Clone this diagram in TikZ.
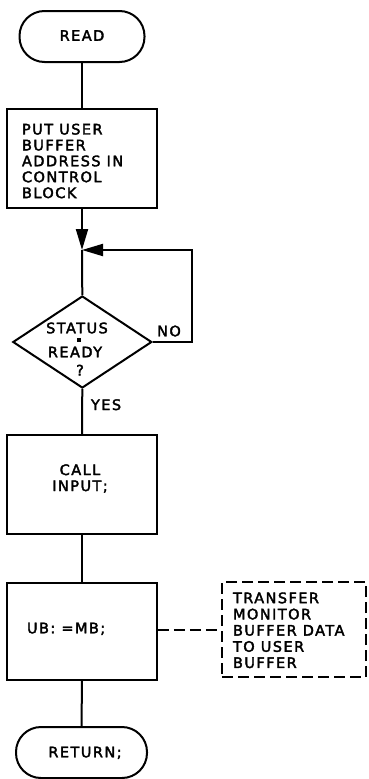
\documentclass[tikz,border=0pt]{standalone}
\usepackage{fontspec}
\setmainfont{DejaVu Sans}[LetterSpace=10,FakeBold=2.4]
\usetikzlibrary{shapes.geometric,arrows.meta}
\begin{document}
\begin{tikzpicture}[x=1pt,y=-1pt,line width=2pt,
  every node/.style={font=\fontsize{14.5}{16}\selectfont},
  term/.style={draw,rounded corners=25pt,minimum height=51pt,inner sep=0pt},
  procbox/.style={draw,minimum width=149.5pt,inner sep=0pt},
  lbl/.style={inner sep=0pt},
  arr/.style={-{Triangle[length=21pt,width=12pt]}},
  dashline/.style={dash pattern=on 11pt off 5pt}
]
\useasboundingbox (0,0) rectangle (368,779);
% shapes
\node[term,minimum width=125pt] (read) at (82,36.5) {};
\node[procbox,minimum height=99.5pt] (b1) at (82,158.7) {};
\node[draw,diamond,minimum width=139pt,minimum height=92pt,inner sep=0pt] (d) at (82.3,342) {};
\node[procbox,minimum height=99pt] (b2) at (82,484.5) {};
\node[procbox,minimum height=97pt] (b3) at (82,631.5) {};
\node[draw,dashline,minimum width=144pt,minimum height=95pt,inner sep=0pt] (db) at (294,629.5) {};
\node[term,minimum width=131pt] (ret) at (81.5,752.5) {};
\coordinate (j) at (82,250);
\coordinate (c1) at (192,342);
\coordinate (c2) at (192,250);
% texts
\node[lbl,anchor=base] (treadt) at (82,40.8) {READ};
\node[lbl,anchor=west,align=left,font=\fontsize{14.5}{15.9}\selectfont] (t1) at (21,161) {PUT USER\\BUFFER\\ADDRESS IN\\CONTROL\\BLOCK};
\node[lbl,anchor=base] (ts) at (77,333.3) {STATUS};
\node[fill,minimum size=3.5pt,inner sep=0pt] (dot) at (79,340) {};
\node[lbl,anchor=base] (tr) at (75,357.3) {READY};
\node[lbl,anchor=base] (tq) at (80,375.5) {?};
\node[lbl,anchor=base] (tno) at (169,336.3) {NO};
\node[lbl,anchor=base west] (tyes) at (90,410) {YES};
\node[lbl,align=center] (t2) at (80,478.5) {CALL\\INPUT;};
\node[lbl,anchor=base west] (t3) at (26,633.3) {UB: =MB;};
\node[lbl,anchor=west,align=left,font=\fontsize{14.5}{16.2}\selectfont] (t4) at (232,630.3) {TRANSFER\\MONITOR\\BUFFER DATA\\TO USER\\BUFFER};
\node[lbl,anchor=base] (tret) at (85,757.3) {RETURN;};
% connectors
\draw (read.south) -- (b1.north);
\draw[arr] (b1.south) -- (j);
\draw (j) -- (d.north);
\draw[arr] (d.east) -- (c1) -- (c2) -- (j);
\draw (d.south) -- (b2.north);
\draw (b2.south) -- (b3.north);
\draw (b3.south) -- (ret.north);
\draw[dashline] (b3.east |- db.west) -- (db.west);
\end{tikzpicture}
\end{document}
